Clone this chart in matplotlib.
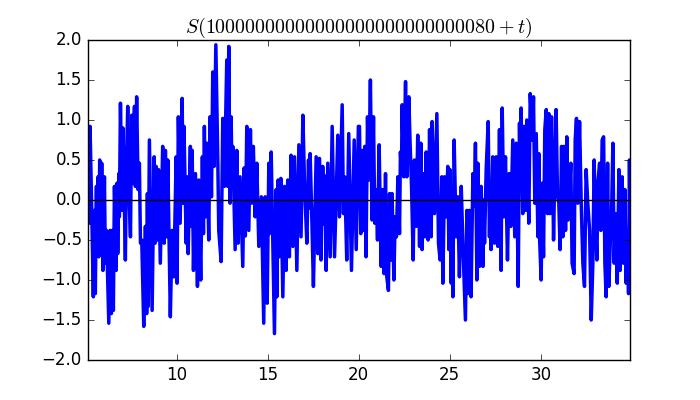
import matplotlib
matplotlib.use("Agg")
import matplotlib.pyplot as plt
import numpy as np

plt.style.use("classic")

title_text = r"$S(10000000000000000000000000080+t)$"

t1 = [5.10, 5.15, 5.19, 5.24, 5.31, 5.42, 5.48, 5.53, 5.59, 5.62, 5.68, 5.72, 5.77, 5.83, 5.88, 5.95, 6.03, 6.08, 6.14, 6.27,
      6.34, 6.41, 6.47, 6.52, 6.58, 6.67, 6.72, 6.76, 6.82, 6.85, 6.91, 7.00, 7.05, 7.18, 7.24, 7.31, 7.40, 7.46, 7.53, 7.58,
      7.68, 7.73, 7.80, 7.88, 7.95, 8.01, 8.08, 8.19, 8.28, 8.35, 8.39, 8.43, 8.50, 8.65, 8.76, 8.81, 8.87, 8.94, 9.00, 9.10,
      9.23, 9.31, 9.38, 9.45, 9.51, 9.65, 9.75, 9.84, 9.97, 10.02, 10.09]
s1 = [0.30, 0.92, -0.29, 0.92, 0.13, -1.21, -0.13, -1.17, 0.17, -0.54, 0.29, -0.71, 0.50, -0.54, 0.46, -0.88, 0.29, -0.79, -0.38, -1.54,
      -0.38, -1.42, -0.38, -1.38, 0.17, -0.88, 0.21, -0.67, 0.33, -0.21, 1.21, -0.13, 0.90, -0.75, 0.46, 1.17, -0.04, -0.46, 1.06, 0.21,
      1.17, 0.17, 1.29, 0.13, 0.46, -0.54, -0.50, -1.58, -0.33, -1.42, 0.08, -1.33, 0.75, -1.38, 0.54, -0.54, 0.42, -0.50, 0.38, -0.79,
      0.67, -0.54, 0.62, -0.46, 0.50, -1.46, -0.38, -0.96, 0.54, -1.04, 1.04]

t2 = [10.19, 10.30, 10.35, 10.40, 10.52, 10.57, 10.63, 10.75, 10.79, 10.85, 10.92, 11.03, 11.14, 11.21, 11.32, 11.41, 11.47, 11.52, 11.58, 11.65,
      11.76, 11.83, 11.91, 11.98, 12.05, 12.15, 12.26, 12.31, 12.44, 12.53, 12.62, 12.75, 12.80, 12.86, 12.93, 12.99, 13.04, 13.08, 13.21, 13.30,
      13.37, 13.48, 13.63, 13.70, 13.77, 13.85, 13.96, 14.05, 14.12, 14.21, 14.31, 14.40, 14.51, 14.65, 14.78, 14.86, 14.97, 15.06]
s2 = [-0.29, 1.27, -0.04, 0.92, -0.54, 0.29, -0.67, 0.67, -0.33, 0.62, -0.88, 0.33, -1.08, 0.25, -1.00, 0.54, -0.42, 0.92, -0.21, 0.71,
      -0.50, 1.04, 0.04, 1.60, 0.42, 1.94, 0.46, -0.38, -0.77, 1.02, 0.17, 1.75, 0.17, 1.92, -0.04, 1.04, 0.21, 0.67, -0.62, 0.62,
      -0.54, 0.29, -0.83, 0.40, -0.45, 0.92, -0.38, 0.88, -0.04, 0.67, -0.21, 0.46, -0.58, 0.04, -1.54, 0.04, -1.29, 0.46]

t3 = [15.09, 15.19, 15.37, 15.46, 15.50, 15.57, 15.64, 15.72, 15.83, 15.92, 16.01, 16.10, 16.19, 16.28, 16.38, 16.47, 16.60, 16.71, 16.83, 16.93,
      17.03, 17.15, 17.24, 17.28, 17.33, 17.42, 17.51, 17.66, 17.75, 17.84, 17.93, 18.02, 18.10, 18.15, 18.21, 18.30, 18.43, 18.54, 18.67, 18.85,
      18.94, 19.09, 19.16, 19.23, 19.34, 19.45, 19.60, 19.75, 19.86, 19.98]
s3 = [-0.42, 0.60, -1.67, 0.13, -1.21, 0.25, -0.71, 0.27, -1.21, 0.17, -0.88, 0.25, -0.71, 0.56, -0.58, 0.54, -0.88, 0.69, -0.46, 1.06,
      0.13, -0.54, 0.50, -0.10, 0.58, -0.21, -1.08, 0.54, -0.67, 0.52, -0.75, 0.42, -0.30, 0.30, -0.88, 0.46, -0.71, 0.92, -0.71, 0.81,
      -0.21, 1.19, -0.17, 0.29, -0.75, 0.83, -0.88, 0.75, -0.62, 0.92]

t4 = [20.04, 20.11, 20.19, 20.26, 20.33, 20.40, 20.48, 20.55, 20.64, 20.73, 20.81, 20.88, 20.95, 21.03, 21.12, 21.23, 21.32, 21.39, 21.47, 21.54,
      21.63, 21.69, 21.78, 21.83, 21.93, 22.00, 22.07, 22.15, 22.24, 22.29, 22.35, 22.38, 22.47, 22.57, 22.64, 22.75, 22.82, 22.90, 22.99, 23.06,
      23.15, 23.24, 23.34, 23.41, 23.48, 23.56, 23.63, 23.70, 23.81, 23.89, 23.98, 24.03, 24.16, 24.29, 24.38, 24.47, 24.56, 24.62, 24.71, 24.80,
      24.89, 24.95]
s4 = [0.92, -0.42, 0.62, -0.38, 0.67, -0.71, 1.04, 0.25, 1.50, -0.25, 1.04, -0.29, 0.13, -0.50, 0.69, -0.83, 0.13, -0.92, 0.33, -0.96,
      -1.13, 0.08, -0.75, 0.08, -1.00, -0.21, -0.46, 0.29, -0.42, 0.60, 0.33, 1.19, 0.29, 1.48, 0.29, 1.29, 0.71, 0.17, -0.75, 0.50,
      -0.33, 0.81, -0.58, 0.71, -0.62, 0.33, -0.46, 0.60, -0.50, 0.88, -0.46, 0.98, -0.17, 1.08, -0.54, -0.75, 0.29, -1.04, 0.29, -0.21,
      0.42, -0.62]

t5 = [25.01, 25.08, 25.12, 25.17, 25.24, 25.35, 25.44, 25.53, 25.63, 25.72, 25.86, 25.94, 25.99, 26.08, 26.17, 26.27, 26.34, 26.41, 26.49, 26.54,
      26.63, 26.72, 26.82, 26.86, 26.91, 27.00, 27.11, 27.18, 27.22, 27.27, 27.36, 27.46, 27.55, 27.64, 27.73, 27.82, 27.88, 27.97, 28.06, 28.17,
      28.26, 28.35, 28.46, 28.57, 28.65, 28.76, 28.83, 28.87, 28.92, 29.01, 29.10, 29.16, 29.23, 29.34, 29.42, 29.53, 29.60, 29.67, 29.75, 29.84,
      29.89]
s5 = [0.38, -1.04, -0.20, -1.21, 0.75, -0.46, 0.04, -0.96, 0.17, -0.54, -1.50, -0.13, -1.17, -0.13, -1.21, 0.33, -0.08, 0.71, -1.00, 0.46,
      -0.83, 0.17, -0.83, 0.00, -0.54, 0.38, 0.98, -0.46, 0.10, -0.62, 0.54, -0.54, 0.54, -0.58, 0.88, -0.88, 1.15, -0.21, 0.54, -0.75,
      0.33, -0.33, 0.75, -0.46, 0.71, -1.08, 0.96, 0.30, 1.15, -0.17, 0.92, -0.13, 1.00, -0.29, 1.33, 0.75, 1.29, -0.04, 0.83, -0.46,
      0.58]

t6 = [29.93, 30.02, 30.08, 30.15, 30.22, 30.30, 30.37, 30.44, 30.51, 30.59, 30.66, 30.70, 30.75, 30.84, 30.92, 30.99, 31.06, 31.14, 31.21, 31.28,
      31.36, 31.43, 31.50, 31.58, 31.65, 31.72, 31.83, 31.89, 31.96, 32.03, 32.13, 32.22, 32.31, 32.40, 32.49, 32.58, 32.68, 32.77, 32.86, 32.93,
      33.00, 33.08, 33.15, 33.23, 33.30, 33.37, 33.45, 33.52, 33.59, 33.67, 33.74, 33.81, 33.89, 33.96, 34.03, 34.10, 34.20, 34.29, 34.36, 34.47,
      34.54, 34.62, 34.69, 34.76, 34.82, 34.87, 34.90]
s6 = [-0.46, -1.00, 0.21, -0.71, 0.88, 1.13, -0.17, 1.08, -0.17, 1.04, 0.25, -0.50, 0.13, 1.13, 0.04, -0.04, -0.62, 0.67, -0.46, 0.67,
      -0.38, 0.79, -0.25, 0.13, 0.46, -0.79, -0.92, 0.75, 1.02, -0.04, 0.98, -0.04, -0.79, -1.08, 0.38, -0.04, -0.38, -1.50, -0.79, 0.50,
      -0.21, -0.75, 0.25, 0.46, -0.38, 0.75, 0.79, -0.79, -1.21, 0.46, -1.08, -0.58, -0.13, 0.71, -0.79, -0.17, -1.04, 0.38, -0.88, 0.29,
      -0.79, 0.13, -1.04, -0.38, -1.17, 0.50, -0.20]

t = np.array(t1 + t2 + t3 + t4 + t5 + t6)
s = np.array(s1 + s2 + s3 + s4 + s5 + s6)
assert len(t) == len(s), (len(t), len(s))

xlim = (5.1, 34.9)
ylim = (-2.0, 2.0)

fig = plt.figure(figsize=(7, 4), dpi=100, facecolor="white")
ax = fig.add_subplot(111)
ax.plot(t, s, color="b", lw=2.5)
ax.axhline(0, color="k", lw=1)
ax.set_xlim(*xlim)
ax.set_ylim(*ylim)
ax.set_yticks(np.arange(-2.0, 2.01, 0.5))
ax.set_xticks([10, 15, 20, 25, 30])
ax.set_title(title_text)
fig.savefig("out.png", dpi=100, facecolor="white")
